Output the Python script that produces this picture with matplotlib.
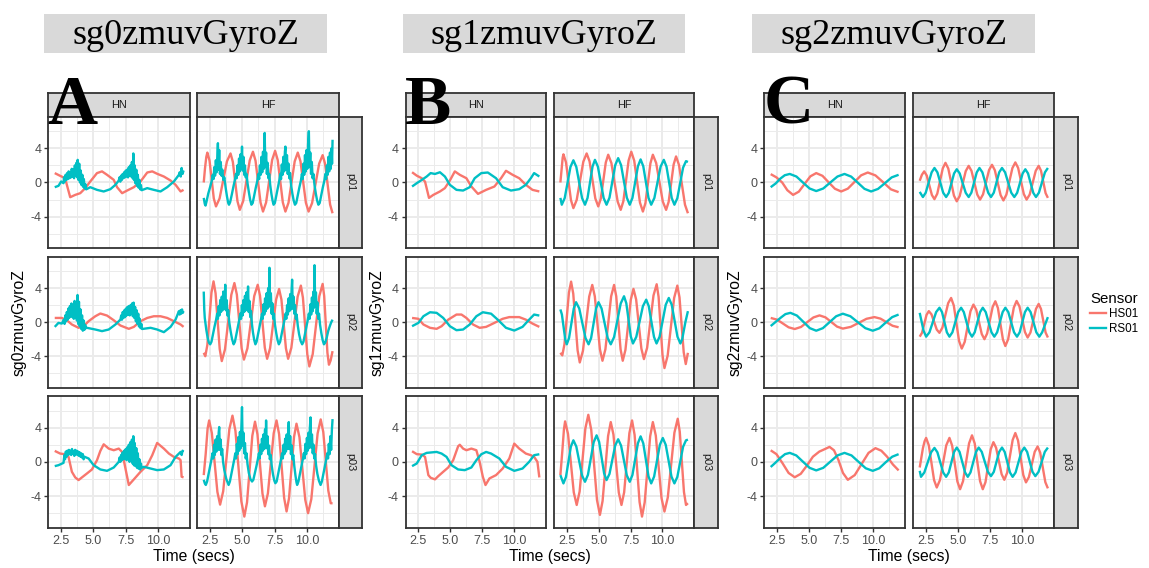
import matplotlib
matplotlib.use("Agg")
import matplotlib.pyplot as plt
from matplotlib.patches import Rectangle
from matplotlib.lines import Line2D
from matplotlib.ticker import FixedLocator, FixedFormatter

plt.rcParams["font.family"] = ["Liberation Sans", "DejaVu Sans"]
plt.rcParams["axes.unicode_minus"] = False

# ---------------------------------------------------------------------------
# Labels
# ---------------------------------------------------------------------------
GROUPS = ["sg0zmuvGyroZ", "sg1zmuvGyroZ", "sg2zmuvGyroZ"]
GROUP_LETTERS = ["A", "B", "C"]
SPEEDS = ["HN", "HF"]
PARTICIPANTS = ["p01", "p02", "p03"]
SENSORS = ["HS01", "RS01"]
X_TICKS = [2.5, 5.0, 7.5, 10.0]
X_TICK_LABELS = ["2.5", "5.0", "7.5", "10.0"]
Y_TICKS = [-4, 0, 4]
Y_TICK_LABELS = ["-4", "0", "4"]

# ---------------------------------------------------------------------------
# Gyro Z traces, (time in secs, value)
# ---------------------------------------------------------------------------
# sg0zmuvGyroZ
a_hn_p01_hs01 = [(2.0,1.1),(2.42,0.78),(2.81,0.5),(2.94,-0.27),(3.2,-1.72),(3.59,-1.45),(3.98,-1.25),(4.37,-0.66),(4.76,0.12),(5.28,1.1),(5.67,1.3),(6.06,0.9),(6.58,0.31),(6.84,-0.55),(7.23,-1.25),(7.62,-0.94),(8.14,-0.55),(8.66,0.12),(9.18,1.17),(9.57,1.3),(9.95,1.02),(10.47,0.7),(10.99,0.23),(11.38,-0.27),(11.77,-1.05),(12.0,-0.86)]
a_hn_p01_rs01 = [(2.0,-0.55),(2.29,-0.39),(2.5,0.12),(2.68,-0.08),(2.72,0.6),(2.78,0.1),(2.84,0.9),(2.9,0.3),(2.96,1.1),(3.02,0.4),(3.08,1.3),(3.14,0.5),(3.2,1.2),(3.26,0.6),(3.32,1.6),(3.38,0.7),(3.44,1.5),(3.5,0.5),(3.56,2.0),(3.62,0.8),(3.68,2.3),(3.74,0.6),(3.78,2.65),(3.84,0.3),(3.9,2.2),(3.96,0.0),(4.02,1.4),(4.08,-0.3),(4.14,0.9),(4.2,-0.5),(4.26,0.4),(4.32,-0.7),(4.38,-0.2),(4.44,-0.8),(4.76,-0.55),(5.28,-0.86),(5.8,-1.05),(6.32,-0.78),(6.71,-0.27),(6.97,0.23),(7.03,0.6),(7.09,0.1),(7.15,0.8),(7.21,0.3),(7.27,1.0),(7.33,0.5),(7.39,1.2),(7.45,0.6),(7.51,1.4),(7.57,0.7),(7.63,1.5),(7.69,0.6),(7.75,1.8),(7.81,0.8),(7.87,2.0),(7.93,0.7),(7.99,2.4),(8.05,0.5),(8.1,3.4),(8.15,0.3),(8.21,2.0),(8.27,-0.1),(8.33,1.5),(8.39,-0.4),(8.45,0.9),(8.51,-0.6),(8.57,0.3),(8.63,-0.8),(8.69,-0.3),(8.75,-0.9),(9.18,-0.66),(9.69,-0.86),(10.21,-1.05),(10.73,-0.55),(11.25,0.12),(11.64,0.9),(11.7,1.2),(11.78,0.7),(11.85,1.7),(11.92,1.0),(12.0,1.4)]
a_hn_p02_hs01 = [(2.0,0.5),(2.55,0.5),(2.94,0.23),(3.33,-0.27),(3.85,-0.66),(4.24,-0.47),(4.63,0.12),(5.15,0.7),(5.54,1.02),(6.06,0.78),(6.58,0.23),(7.1,-0.39),(7.75,-0.78),(8.14,-0.55),(8.66,0.12),(9.18,0.5),(9.69,0.7),(10.21,0.7),(10.73,0.5),(11.25,0.12),(11.77,-0.27),(12.0,-0.55)]
a_hn_p02_rs01 = [(2.0,-0.55),(2.29,-0.08),(2.55,-0.16),(2.7,0.3),(2.76,-0.2),(2.82,0.8),(2.88,0.1),(2.94,1.2),(3.0,0.3),(3.06,1.6),(3.12,0.5),(3.18,1.9),(3.24,0.7),(3.3,2.2),(3.36,0.6),(3.42,2.0),(3.48,0.4),(3.54,2.5),(3.6,0.5),(3.66,2.1),(3.72,0.2),(3.77,3.2),(3.82,-0.2),(3.88,2.4),(3.94,-0.5),(4.0,1.5),(4.06,-0.8),(4.12,0.8),(4.18,-1.0),(4.24,0.2),(4.3,-0.9),(4.36,-0.3),(4.42,-0.7),(4.5,-0.66),(5.15,-0.86),(5.67,-1.05),(6.19,-0.86),(6.71,-0.27),(7.1,0.31),(7.16,0.8),(7.22,0.3),(7.28,1.2),(7.34,0.5),(7.4,1.4),(7.46,0.6),(7.52,1.6),(7.58,0.8),(7.64,1.8),(7.7,0.9),(7.76,1.9),(7.82,0.8),(7.88,2.0),(7.94,1.0),(8.0,2.2),(8.06,0.7),(8.12,2.3),(8.18,0.5),(8.24,1.8),(8.3,0.1),(8.36,1.4),(8.42,-0.2),(8.48,1.0),(8.54,-0.5),(8.6,0.4),(8.66,-0.7),(8.72,-0.2),(8.78,-0.8),(9.44,-0.66),(9.95,-0.86),(10.47,-1.17),(10.99,-0.55),(11.38,0.31),(11.64,1.3),(11.7,0.9),(11.76,1.4),(11.82,1.0),(11.88,1.5),(11.94,1.1),(12.0,1.3)]
a_hn_p03_hs01 = [(2.0,1.28),(2.42,0.97),(2.81,0.89),(3.07,0.58),(3.33,-1.16),(3.59,-1.82),(3.85,-2.13),(4.11,-1.82),(4.5,-1.36),(4.89,-0.89),(5.28,0.19),(5.54,1.28),(5.8,2.05),(6.19,1.55),(6.58,1.36),(6.97,1.55),(7.23,1.16),(7.49,-0.78),(7.75,-2.71),(8.14,-2.05),(8.66,-1.16),(9.18,-0.39),(9.57,0.78),(9.95,2.21),(10.47,1.55),(10.86,0.97),(11.25,0.58),(11.64,0.39),(11.77,0.19),(11.85,-1.74),(12.0,-1.82)]
a_hn_p03_rs01 = [(2.0,-0.5),(2.29,-0.39),(2.68,-0.12),(2.75,0.8),(2.8,0.3),(2.86,1.2),(2.92,0.6),(2.98,1.3),(3.04,0.8),(3.1,1.4),(3.16,0.9),(3.22,1.3),(3.28,0.8),(3.34,1.5),(3.4,1.0),(3.46,1.2),(3.52,0.7),(3.58,1.4),(3.64,0.9),(3.7,1.3),(3.76,0.8),(3.82,1.2),(3.88,0.7),(3.94,1.1),(4.0,0.6),(4.06,1.0),(4.12,0.5),(4.18,0.9),(4.24,0.3),(4.3,0.6),(4.63,0.39),(5.02,-0.39),(5.54,-0.89),(6.06,-1.05),(6.58,-0.66),(6.97,0.0),(7.03,0.5),(7.09,0.0),(7.15,0.8),(7.21,0.2),(7.27,1.1),(7.33,0.3),(7.39,1.3),(7.45,0.4),(7.51,1.5),(7.57,0.2),(7.63,1.7),(7.69,0.3),(7.75,2.0),(7.81,0.0),(7.87,2.3),(7.93,0.2),(7.99,2.6),(8.05,-0.2),(8.1,3.0),(8.15,-0.4),(8.21,2.2),(8.27,-0.5),(8.33,1.6),(8.39,-0.7),(8.45,1.0),(8.51,-0.8),(8.57,0.3),(8.63,-0.9),(8.69,-0.2),(8.75,-0.7),(8.92,-0.58),(9.44,-0.78),(9.95,-0.97),(10.47,-0.89),(10.99,-0.39),(11.38,0.58),(11.77,1.16),(11.85,0.8),(11.92,1.3),(12.0,1.2)]
a_hf_p01_hs01 = [(2.0,0.0),(2.1,1.7),(2.2,3.0),(2.28,3.5),(2.45,2.56),(2.78,-1.86),(2.95,-2.8),(3.23,-1.87),(3.8,2.47),(4.08,3.4),(4.26,2.41),(4.62,-2.21),(4.8,-3.2),(5.06,-2.18),(5.57,2.58),(5.82,3.6),(6.02,2.55),(6.41,-2.35),(6.6,-3.4),(6.84,-2.34),(7.31,2.64),(7.54,3.7),(7.74,2.64),(8.14,-2.34),(8.34,-3.4),(8.58,-2.37),(9.06,2.47),(9.3,3.5),(9.51,2.47),(9.93,-2.37),(10.14,-3.4),(10.41,-2.41),(10.96,2.21),(11.23,3.2),(11.42,2.18),(11.81,-2.58),(12.0,-3.6)]
a_hf_p01_rs01 = [(2.0,-1.8),(2.08,-2.5),(2.14,-2.7),(2.22,-2.2),(2.35,-1.3),(2.5,-0.5),(2.62,0.2),(2.7,0.9),(2.76,0.4),(2.82,1.8),(2.88,0.8),(2.94,2.6),(3.0,1.2),(3.06,3.4),(3.1,4.6),(3.14,1.5),(3.2,3.8),(3.26,1.0),(3.32,2.4),(3.38,0.8),(3.44,1.5),(3.52,0.3),(3.6,0.6),(3.7,-0.6),(3.8,-1.6),(3.9,-2.4),(3.96,-2.6),(4.05,-2.3),(4.18,-1.4),(4.3,-0.5),(4.42,0.3),(4.5,1.0),(4.56,0.5),(4.62,2.0),(4.68,0.9),(4.74,2.8),(4.8,1.3),(4.86,3.3),(4.92,1.6),(4.97,4.2),(5.02,1.4),(5.08,3.0),(5.14,0.9),(5.2,2.0),(5.26,0.6),(5.32,1.0),(5.4,-0.1),(5.5,-1.1),(5.6,-2.0),(5.7,-2.6),(5.8,-2.4),(5.92,-1.5),(6.04,-0.6),(6.16,0.2),(6.24,1.0),(6.3,0.4),(6.36,2.0),(6.42,0.9),(6.48,3.0),(6.54,1.2),(6.6,3.6),(6.66,1.6),(6.73,5.8),(6.78,1.8),(6.84,3.5),(6.9,1.0),(6.96,2.3),(7.02,0.5),(7.08,1.0),(7.16,-0.3),(7.25,-1.3),(7.34,-2.1),(7.42,-2.6),(7.52,-2.4),(7.64,-1.5),(7.76,-0.6),(7.86,0.2),(7.94,1.0),(8.0,0.4),(8.06,2.1),(8.12,0.9),(8.18,3.0),(8.24,1.3),(8.3,3.6),(8.34,4.2),(8.4,1.5),(8.46,3.2),(8.52,1.0),(8.58,2.2),(8.64,0.5),(8.7,1.1),(8.78,-0.3),(8.88,-1.3),(8.98,-2.1),(9.08,-2.6),(9.18,-2.4),(9.3,-1.5),(9.42,-0.6),(9.54,0.2),(9.62,1.0),(9.68,0.4),(9.74,2.2),(9.8,0.9),(9.86,3.2),(9.92,1.3),(9.98,3.8),(10.04,1.6),(10.1,4.5),(10.16,6.0),(10.21,1.8),(10.27,3.5),(10.33,1.0),(10.39,2.4),(10.45,0.5),(10.51,1.0),(10.6,-0.3),(10.7,-1.3),(10.8,-2.1),(10.9,-2.6),(11.0,-2.4),(11.12,-1.5),(11.24,-0.6),(11.36,0.2),(11.44,1.0),(11.5,0.4),(11.56,2.0),(11.62,0.9),(11.68,3.0),(11.74,1.3),(11.8,3.5),(11.86,1.6),(11.92,4.0),(11.96,2.2),(12.0,5.0)]
a_hf_p02_hs01 = [(2.0,-3.6),(2.12,-4.0),(2.28,-2.68),(2.6,3.48),(2.76,4.8),(2.92,3.39),(3.24,-3.16),(3.4,-4.57),(3.65,-3.19),(4.14,3.22),(4.38,4.6),(4.57,3.25),(4.94,-3.05),(5.12,-4.4),(5.39,-3.08),(5.92,3.08),(6.19,4.4),(6.37,3.1),(6.74,-3.0),(6.92,-4.3),(7.15,-3.07),(7.62,2.67),(7.85,3.9),(8.03,2.67),(8.38,-3.07),(8.55,-4.3),(8.8,-3.01),(9.29,3.01),(9.54,4.3),(9.7,2.88),(10.04,-3.78),(10.2,-5.2),(10.46,-3.75),(10.97,3.05),(11.23,4.5),(11.35,3.08),(11.6,-3.58),(11.72,-5.0),(11.85,-4.5),(12.0,-3.4)]
a_hf_p02_rs01 = [(2.0,3.6),(2.04,1.5),(2.08,0.5),(2.14,-0.2),(2.2,-0.9),(2.3,-1.8),(2.4,-2.4),(2.5,-2.6),(2.6,-2.3),(2.72,-1.4),(2.84,-0.5),(2.96,0.3),(3.04,1.0),(3.1,0.4),(3.16,1.9),(3.22,0.8),(3.28,2.6),(3.34,1.2),(3.4,3.0),(3.46,1.4),(3.52,3.6),(3.58,1.6),(3.64,2.6),(3.67,4.4),(3.72,1.4),(3.78,2.6),(3.84,0.8),(3.9,1.4),(3.98,0.0),(4.08,-1.0),(4.2,-2.0),(4.32,-2.6),(4.42,-2.3),(4.54,-1.4),(4.66,-0.5),(4.76,0.3),(4.84,1.0),(4.9,0.4),(4.96,2.0),(5.02,0.8),(5.08,2.6),(5.14,1.2),(5.2,3.1),(5.26,1.4),(5.32,3.5),(5.38,1.5),(5.44,4.2),(5.49,1.2),(5.55,2.5),(5.61,0.6),(5.67,1.3),(5.74,-0.2),(5.82,-1.2),(5.92,-2.1),(6.01,-2.6),(6.1,-2.3),(6.22,-1.4),(6.34,-0.5),(6.44,0.3),(6.52,1.0),(6.58,0.4),(6.64,2.1),(6.7,0.9),(6.76,2.8),(6.82,1.3),(6.88,3.4),(6.94,1.6),(7.0,4.0),(7.05,1.8),(7.1,6.4),(7.15,2.0),(7.21,3.4),(7.27,1.0),(7.33,2.2),(7.39,0.4),(7.45,1.0),(7.53,-0.3),(7.63,-1.3),(7.73,-2.1),(7.83,-2.6),(7.93,-2.3),(8.05,-1.4),(8.17,-0.5),(8.27,0.3),(8.35,1.0),(8.41,0.4),(8.47,2.0),(8.53,0.9),(8.59,2.8),(8.65,1.3),(8.71,3.3),(8.77,1.5),(8.82,3.8),(8.86,5.0),(8.91,1.6),(8.97,3.0),(9.03,1.0),(9.09,2.0),(9.15,0.4),(9.21,0.9),(9.3,-0.4),(9.4,-1.4),(9.52,-2.2),(9.64,-2.6),(9.74,-2.3),(9.86,-1.4),(9.98,-0.5),(10.08,0.3),(10.16,1.0),(10.22,0.4),(10.28,2.1),(10.34,0.9),(10.4,2.9),(10.46,1.3),(10.52,3.6),(10.56,1.7),(10.6,6.7),(10.65,2.0),(10.71,3.5),(10.77,1.0),(10.83,2.3),(10.89,0.4),(10.95,1.0),(11.03,-0.3),(11.13,-1.3),(11.23,-2.1),(11.33,-2.6),(11.43,-2.4),(11.55,-1.8),(11.67,-1.0),(11.8,-0.4),(11.9,0.0),(12.0,0.3)]
a_hf_p03_hs01 = [(2.0,-1.55),(2.15,0.9),(2.3,3.9),(2.42,4.84),(2.63,3.36),(3.06,-3.52),(3.27,-5.0),(3.51,-3.44),(3.99,3.84),(4.23,5.4),(4.46,3.63),(4.92,-4.63),(5.15,-6.4),(5.36,-4.74),(5.77,3.04),(5.98,4.7),(6.17,3.22),(6.56,-3.72),(6.75,-5.2),(6.98,-3.69),(7.43,3.33),(7.65,4.84),(7.85,3.24),(8.24,-4.2),(8.43,-5.8),(8.62,-4.26),(9.01,2.92),(9.2,4.46),(9.43,2.89),(9.88,-4.43),(10.1,-6.0),(10.35,-4.36),(10.84,3.32),(11.08,4.96),(11.28,3.49),(11.67,-3.37),(11.86,-4.84),(12.0,-4.84)]
a_hf_p03_rs01 = [(2.0,-2.1),(2.08,-2.5),(2.16,-2.7),(2.26,-2.3),(2.38,-1.4),(2.5,-0.5),(2.6,0.3),(2.68,1.0),(2.74,0.4),(2.8,2.0),(2.86,0.8),(2.92,2.6),(2.98,1.2),(3.04,3.0),(3.1,1.4),(3.16,3.4),(3.2,4.07),(3.25,1.4),(3.31,2.6),(3.37,0.8),(3.43,1.5),(3.5,0.0),(3.6,-1.0),(3.75,-2.0),(3.93,-2.7),(4.03,-2.3),(4.15,-1.4),(4.27,-0.5),(4.37,0.3),(4.45,1.0),(4.51,0.4),(4.57,2.1),(4.63,0.9),(4.69,2.9),(4.75,1.3),(4.81,3.5),(4.87,1.6),(4.92,4.2),(4.97,6.4),(5.02,1.9),(5.08,3.4),(5.14,1.0),(5.2,2.2),(5.26,0.4),(5.32,1.0),(5.4,-0.3),(5.5,-1.3),(5.62,-2.0),(5.75,-2.3),(5.85,-2.1),(5.97,-1.3),(6.09,-0.5),(6.2,0.3),(6.28,1.0),(6.34,0.4),(6.4,2.0),(6.46,0.9),(6.52,2.7),(6.58,1.3),(6.64,3.2),(6.7,1.5),(6.76,3.8),(6.8,1.7),(6.84,4.84),(6.89,1.6),(6.95,3.0),(7.01,0.9),(7.07,1.9),(7.13,0.3),(7.2,0.8),(7.28,-0.5),(7.38,-1.5),(7.48,-2.2),(7.56,-2.5),(7.66,-2.3),(7.78,-1.4),(7.9,-0.5),(8.0,0.3),(8.08,1.0),(8.14,0.4),(8.2,2.0),(8.26,0.9),(8.32,2.7),(8.38,1.2),(8.44,3.2),(8.5,1.5),(8.56,3.7),(8.6,4.65),(8.65,1.5),(8.71,3.0),(8.77,0.9),(8.83,1.9),(8.89,0.3),(8.95,0.8),(9.03,-0.5),(9.12,-1.6),(9.2,-2.4),(9.25,-2.7),(9.35,-2.3),(9.47,-1.4),(9.59,-0.5),(9.69,0.3),(9.77,1.0),(9.83,0.4),(9.89,2.1),(9.95,0.9),(10.01,2.8),(10.07,1.3),(10.13,3.4),(10.19,1.6),(10.24,4.0),(10.29,5.2),(10.34,1.7),(10.4,3.2),(10.46,1.0),(10.52,2.0),(10.58,0.4),(10.64,0.9),(10.72,-0.4),(10.82,-1.4),(10.94,-2.2),(11.07,-2.7),(11.17,-2.3),(11.29,-1.4),(11.41,-0.5),(11.51,0.3),(11.59,1.0),(11.65,0.4),(11.71,2.1),(11.77,0.9),(11.83,3.0),(11.89,1.4),(11.95,3.8),(12.0,5.0)]

# sg1zmuvGyroZ
b_hn_p01_hs01 = [(2.0,1.2),(2.37,0.8),(2.76,0.5),(3.02,0.1),(3.33,-1.8),(3.67,-1.45),(4.19,-1.05),(4.58,-0.66),(4.97,0.23),(5.36,1.3),(5.75,0.9),(6.27,0.5),(6.66,-0.47),(7.18,-1.33),(7.82,-0.86),(8.47,-0.47),(8.99,0.5),(9.38,1.37),(9.9,0.9),(10.42,0.5),(10.94,-0.27),(11.46,-0.86),(12.0,-1.05)]
b_hn_p01_rs01 = [(2.0,-0.47),(2.37,-0.08),(2.76,0.3),(3.15,0.7),(3.46,1.1),(3.8,1.0),(4.19,1.2),(4.58,0.7),(4.97,-0.27),(5.49,-0.86),(6.01,-0.94),(6.53,-0.55),(6.92,0.5),(7.44,1.1),(7.95,1.17),(8.6,0.5),(9.12,-0.55),(9.77,-0.94),(10.42,-0.78),(10.94,-0.27),(11.33,0.5),(11.59,1.1),(12.0,0.7)]
b_hn_p02_hs01 = [(2.0,0.5),(2.5,0.4),(2.89,-0.27),(3.41,-0.66),(3.93,-0.78),(4.32,-0.47),(4.84,0.3),(5.49,0.9),(5.88,0.9),(6.27,0.5),(6.79,-0.27),(7.31,-0.66),(7.82,-0.55),(8.47,-0.08),(9.12,0.4),(9.64,0.6),(10.42,0.6),(10.94,0.3),(11.46,-0.16),(12.0,-0.55)]
b_hn_p02_rs01 = [(2.0,-0.47),(2.5,-0.08),(2.89,0.7),(3.41,1.17),(3.93,1.1),(4.45,0.5),(4.97,-0.47),(5.49,-0.94),(6.01,-0.86),(6.53,-0.27),(7.05,0.7),(7.56,1.17),(8.21,1.0),(8.73,0.3),(9.38,-0.66),(10.03,-0.98),(10.68,-0.55),(11.2,0.3),(11.59,0.9),(12.0,0.78)]
b_hn_p03_hs01 = [(2.0,1.24),(2.37,0.9),(2.76,0.85),(3.02,0.58),(3.28,-1.55),(3.46,-1.86),(3.8,-2.05),(4.06,-1.67),(4.45,-1.16),(4.84,-0.66),(5.23,0.19),(5.62,1.82),(5.75,2.0),(6.01,1.55),(6.27,1.36),(6.66,1.55),(7.05,1.36),(7.31,0.0),(7.56,-1.74),(7.77,-2.71),(8.08,-1.94),(8.6,-1.55),(9.12,-0.78),(9.64,0.39),(10.03,2.13),(10.42,1.55),(10.94,0.97),(11.33,0.78),(11.59,0.58),(11.85,0.0),(12.0,-1.82)]
b_hn_p03_rs01 = [(2.0,-0.5),(2.37,-0.19),(2.76,0.78),(3.15,1.05),(3.93,1.16),(4.32,0.97),(4.71,0.58),(5.1,-0.39),(5.62,-0.89),(6.14,-0.97),(6.66,-0.66),(7.05,0.19),(7.44,0.89),(7.82,1.16),(8.21,0.97),(8.86,0.39),(9.38,-0.58),(10.03,-1.05),(10.68,-0.78),(11.2,0.0),(11.59,0.78),(12.0,0.89)]
b_hf_p01_hs01 = [(2.0,0.0),(2.1,1.6),(2.18,2.9),(2.24,3.3),(2.44,2.36),(2.83,-2.06),(3.02,-3.0),(3.28,-2.04),(3.8,2.44),(4.06,3.4),(4.29,2.47),(4.74,-1.87),(4.97,-2.8),(5.17,-1.89),(5.56,2.34),(5.75,3.25),(6.0,2.28),(6.49,-2.23),(6.73,-3.2),(6.94,-2.18),(7.35,2.58),(7.56,3.6),(7.79,2.55),(8.24,-2.35),(8.47,-3.4),(8.67,-2.4),(9.06,2.25),(9.25,3.25),(9.51,2.28),(10.03,-2.23),(10.29,-3.2),(10.49,-2.26),(10.88,2.11),(11.07,3.05),(11.3,2.05),(11.77,-2.6),(12.0,-3.6)]
b_hf_p01_rs01 = [(2.0,-1.8),(2.11,-2.6),(2.34,-1.82),(2.79,1.82),(3.02,2.6),(3.25,1.82),(3.7,-1.82),(3.93,-2.6),(4.13,-1.81),(4.52,1.86),(4.71,2.65),(4.94,1.86),(5.39,-1.81),(5.62,-2.6),(5.85,-1.78),(6.3,2.03),(6.53,2.85),(6.76,2.03),(7.21,-1.78),(7.44,-2.6),(7.65,-1.8),(8.08,1.9),(8.29,2.7),(8.5,1.9),(8.91,-1.8),(9.12,-2.6),(9.37,-1.81),(9.86,1.86),(10.11,2.65),(10.32,1.86),(10.73,-1.81),(10.94,-2.6),(11.17,-1.84),(11.62,1.74),(11.85,2.5),(12.0,2.4)]
b_hf_p02_hs01 = [(2.0,-3.6),(2.15,-3.9),(2.32,-2.6),(2.67,3.47),(2.84,4.77),(3.01,3.35),(3.35,-3.31),(3.52,-4.73),(3.77,-3.36),(4.26,3.01),(4.5,4.38),(4.7,3.04),(5.1,-3.19),(5.3,-4.53),(5.53,-3.19),(5.98,3.04),(6.21,4.38),(6.38,3.04),(6.72,-3.19),(6.89,-4.53),(7.1,-3.26),(7.52,2.64),(7.73,3.91),(7.94,2.67),(8.35,-3.1),(8.55,-4.34),(8.8,-3.02),(9.3,3.14),(9.55,4.46),(9.7,2.98),(10.01,-3.91),(10.16,-5.39),(10.41,-3.94),(10.92,2.85),(11.17,4.3),(11.34,2.92),(11.67,-3.54),(11.83,-4.92),(12.0,-3.6)]
b_hf_p02_rs01 = [(2.0,1.5),(2.12,0.9),(2.38,-2.0),(2.5,-2.6),(2.68,-1.86),(3.05,1.61),(3.23,2.35),(3.48,1.61),(3.97,-1.86),(4.21,-2.6),(4.41,-1.86),(4.8,1.61),(4.99,2.35),(5.23,1.61),(5.71,-1.86),(5.95,-2.6),(6.21,-1.75),(6.73,2.2),(6.99,3.05),(7.17,2.22),(7.52,-1.67),(7.69,-2.5),(7.95,-1.73),(8.47,1.88),(8.73,2.65),(8.93,1.88),(9.34,-1.73),(9.54,-2.5),(9.78,-1.7),(10.26,2.05),(10.5,2.85),(10.73,2.05),(11.18,-1.7),(11.41,-2.5),(11.55,-2.0),(11.8,0.0),(12.0,1.3)]
b_hf_p03_hs01 = [(2.0,-1.55),(2.15,1.2),(2.28,3.8),(2.37,4.73),(2.6,3.26),(3.05,-3.57),(3.28,-5.04),(3.51,-3.46),(3.96,3.92),(4.19,5.5),(4.42,3.75),(4.87,-4.45),(5.1,-6.2),(5.31,-4.57),(5.74,3.02),(5.95,4.65),(6.16,3.2),(6.58,-3.59),(6.79,-5.04),(7.0,-3.56),(7.41,3.36),(7.62,4.84),(7.82,3.15),(8.21,-4.71),(8.4,-6.4),(8.61,-4.74),(9.04,2.99),(9.25,4.65),(9.48,3.08),(9.93,-4.24),(10.16,-5.81),(10.42,-4.18),(10.94,3.41),(11.2,5.04),(11.36,3.53),(11.69,-3.53),(11.85,-5.04),(12.0,-4.84)]
b_hf_p03_rs01 = [(2.0,-1.55),(2.24,-2.52),(2.44,-1.76),(2.82,1.76),(3.02,2.52),(3.25,1.79),(3.7,-1.6),(3.93,-2.33),(4.16,-1.52),(4.61,2.29),(4.84,3.1),(5.04,2.32),(5.43,-1.35),(5.62,-2.13),(5.85,-1.41),(6.3,1.92),(6.53,2.64),(6.76,1.89),(7.21,-1.58),(7.44,-2.33),(7.65,-1.53),(8.08,2.18),(8.29,2.98),(8.5,2.16),(8.91,-1.7),(9.12,-2.52),(9.35,-1.72),(9.8,1.99),(10.03,2.79),(10.26,1.99),(10.71,-1.72),(10.94,-2.52),(11.17,-1.76),(11.62,1.76),(11.85,2.52),(12.0,2.6)]

# sg2zmuvGyroZ
c_hn_p01_hs01 = [(2.0,0.98),(2.45,0.6),(2.9,0.0),(3.3,-0.9),(3.75,-1.45),(4.2,-1.07),(4.65,-0.17),(5.1,0.72),(5.56,1.1),(6.05,0.78),(6.53,0.02),(7.02,-0.73),(7.51,-1.05),(8.03,-0.72),(8.55,0.06),(9.07,0.84),(9.59,1.17),(10.19,0.83),(10.8,0.02),(11.4,-0.8),(12.0,-1.13)]
c_hn_p01_rs01 = [(2.0,-0.55),(2.4,-0.1),(2.75,0.45),(3.1,0.85),(3.49,1.0),(4.01,0.7),(4.52,0.0),(5.04,-0.7),(5.56,-1.0),(6.11,-0.7),(6.66,0.0),(7.22,0.7),(7.77,1.0),(8.29,0.69),(8.81,-0.02),(9.33,-0.74),(9.85,-1.05),(10.39,-0.75),(10.93,-0.08),(11.46,0.6),(12.0,0.9)]
c_hn_p02_hs01 = [(2.0,0.5),(2.5,0.3),(2.95,-0.15),(3.4,-0.6),(3.88,-0.8),(4.37,-0.56),(4.85,0.0),(5.34,0.56),(5.82,0.8),(6.28,0.57),(6.73,0.03),(7.19,-0.52),(7.64,-0.75),(8.26,-0.55),(8.88,-0.08),(9.49,0.4),(10.11,0.6),(10.58,0.42),(11.06,0.0),(11.53,-0.42),(12.0,-0.6)]
c_hn_p02_rs01 = [(2.0,-0.45),(2.4,0.05),(2.8,0.55),(3.15,0.95),(3.54,1.1),(4.05,0.78),(4.55,0.05),(5.06,-0.7),(5.56,-1.0),(6.08,-0.7),(6.6,0.0),(7.12,0.7),(7.64,1.0),(8.23,0.7),(8.81,0.0),(9.4,-0.7),(9.98,-1.0),(10.49,-0.72),(10.99,-0.05),(11.5,0.6),(12.0,0.9)]
c_hn_p03_hs01 = [(2.0,1.35),(2.45,0.9),(2.9,-0.1),(3.4,-1.3),(3.88,-1.8),(4.35,-1.4),(4.8,-0.5),(5.3,0.6),(5.8,1.2),(6.1,1.4),(6.6,1.75),(6.95,1.35),(7.3,0.2),(7.65,-1.3),(8.03,-2.1),(8.57,-1.55),(9.11,-0.25),(9.65,1.05),(10.19,1.6),(10.65,1.3),(11.1,0.6),(11.55,-0.3),(12.0,-1.0)]
c_hn_p03_rs01 = [(2.0,-0.6),(2.37,-0.1),(2.75,0.45),(3.12,0.9),(3.49,1.05),(4.0,0.75),(4.52,0.02),(5.04,-0.7),(5.56,-1.0),(6.11,-0.7),(6.66,0.02),(7.22,0.75),(7.77,1.05),(8.32,0.75),(8.87,0.0),(9.43,-0.75),(9.98,-1.05),(10.49,-0.75),(10.99,-0.05),(11.5,0.6),(12.0,0.9)]
c_hf_p01_hs01 = [(2.0,0.2),(2.17,0.9),(2.35,1.3),(2.55,0.81),(2.95,-1.46),(3.15,-1.95),(3.37,-1.31),(3.8,1.66),(4.01,2.3),(4.23,1.63),(4.67,-1.53),(4.89,-2.2),(5.12,-1.58),(5.59,1.33),(5.82,1.95),(6.04,1.36),(6.49,-1.41),(6.71,-2.0),(6.94,-1.39),(7.41,1.46),(7.64,2.07),(7.86,1.44),(8.31,-1.47),(8.53,-2.1),(8.76,-1.43),(9.23,1.68),(9.46,2.35),(9.68,1.7),(10.12,-1.35),(10.34,-2.0),(10.58,-1.41),(11.05,1.36),(11.28,1.95),(11.46,1.39),(11.82,-1.24),(12.0,-1.8)]
c_hf_p01_rs01 = [(2.0,-1.1),(2.25,-1.7),(2.47,-1.19),(2.93,1.19),(3.15,1.7),(3.38,1.19),(3.83,-1.19),(4.06,-1.7),(4.27,-1.21),(4.68,1.06),(4.89,1.55),(5.12,1.06),(5.59,-1.21),(5.82,-1.7),(6.03,-1.19),(6.45,1.19),(6.66,1.7),(6.89,1.19),(7.34,-1.19),(7.56,-1.7),(7.78,-1.19),(8.2,1.19),(8.42,1.7),(8.66,1.19),(9.14,-1.19),(9.38,-1.7),(9.6,-1.21),(10.03,1.06),(10.24,1.55),(10.45,1.06),(10.86,-1.21),(11.07,-1.7),(11.3,-1.19),(11.77,1.19),(12.0,1.7)]
c_hf_p02_hs01 = [(2.0,-1.7),(2.18,-1.25),(2.53,0.85),(2.71,1.3),(2.92,0.92),(3.33,-0.87),(3.54,-1.25),(3.77,-0.64),(4.22,2.24),(4.45,2.85),(4.66,1.96),(5.07,-2.21),(5.28,-3.1),(5.51,-2.32),(5.96,1.29),(6.19,2.07),(6.41,1.46),(6.84,-1.39),(7.05,-2.0),(7.26,-1.33),(7.69,1.79),(7.9,2.46),(8.1,1.67),(8.49,-2.01),(8.68,-2.8),(8.9,-2.0),(9.34,1.71),(9.56,2.5),(9.78,1.86),(10.21,-1.16),(10.42,-1.8),(10.64,-1.21),(11.07,1.56),(11.28,2.15),(11.46,1.56),(11.82,-1.21),(12.0,-1.8)]
c_hf_p02_rs01 = [(2.0,1.1),(2.3,-1.0),(2.5,-1.7),(2.76,-1.19),(3.28,1.19),(3.54,1.7),(3.74,1.19),(4.12,-1.19),(4.32,-1.7),(4.55,-1.19),(5.0,1.19),(5.23,1.7),(5.44,1.19),(5.87,-1.19),(6.08,-1.7),(6.29,-1.19),(6.71,1.19),(6.92,1.7),(7.15,1.19),(7.6,-1.19),(7.82,-1.7),(8.04,-1.19),(8.47,1.19),(8.68,1.7),(8.91,1.19),(9.36,-1.19),(9.59,-1.7),(9.8,-1.19),(10.21,1.19),(10.42,1.7),(10.65,1.19),(11.1,-1.19),(11.33,-1.7),(11.55,-1.2),(11.8,-0.2),(12.0,0.6)]
c_hf_p03_hs01 = [(2.0,-0.66),(2.25,1.6),(2.38,2.4),(2.5,2.8),(2.71,1.93),(3.12,-2.13),(3.33,-3.0),(3.58,-2.13),(4.07,1.93),(4.32,2.8),(4.53,1.9),(4.94,-2.3),(5.15,-3.2),(5.38,-2.26),(5.85,2.16),(6.08,3.1),(6.29,2.16),(6.71,-2.26),(6.92,-3.2),(7.13,-2.38),(7.54,1.48),(7.75,2.3),(7.96,1.64),(8.39,-1.44),(8.6,-2.1),(8.82,-1.28),(9.25,2.55),(9.46,3.37),(9.67,2.5),(10.08,-1.53),(10.29,-2.4),(10.52,-1.77),(10.97,1.17),(11.2,1.8),(11.4,1.07),(11.8,-2.37),(12.0,-3.1)]
c_hf_p03_rs01 = [(2.0,-1.05),(2.1,-1.75),(2.36,-1.24),(2.89,1.12),(3.15,1.63),(3.38,1.12),(3.83,-1.24),(4.06,-1.75),(4.27,-1.24),(4.68,1.16),(4.89,1.67),(5.11,1.16),(5.54,-1.24),(5.75,-1.75),(5.96,-1.24),(6.39,1.16),(6.6,1.67),(6.84,1.17),(7.32,-1.17),(7.56,-1.67),(7.78,-1.17),(8.2,1.17),(8.42,1.67),(8.63,1.16),(9.04,-1.24),(9.25,-1.75),(9.48,-1.24),(9.93,1.16),(10.16,1.67),(10.38,1.17),(10.8,-1.17),(11.02,-1.67),(11.27,-1.17),(11.76,1.17),(12.0,1.67)]

TRACES = {
    ("sg0zmuvGyroZ", "HN", "p01"): (a_hn_p01_hs01, a_hn_p01_rs01),
    ("sg0zmuvGyroZ", "HN", "p02"): (a_hn_p02_hs01, a_hn_p02_rs01),
    ("sg0zmuvGyroZ", "HN", "p03"): (a_hn_p03_hs01, a_hn_p03_rs01),
    ("sg0zmuvGyroZ", "HF", "p01"): (a_hf_p01_hs01, a_hf_p01_rs01),
    ("sg0zmuvGyroZ", "HF", "p02"): (a_hf_p02_hs01, a_hf_p02_rs01),
    ("sg0zmuvGyroZ", "HF", "p03"): (a_hf_p03_hs01, a_hf_p03_rs01),
    ("sg1zmuvGyroZ", "HN", "p01"): (b_hn_p01_hs01, b_hn_p01_rs01),
    ("sg1zmuvGyroZ", "HN", "p02"): (b_hn_p02_hs01, b_hn_p02_rs01),
    ("sg1zmuvGyroZ", "HN", "p03"): (b_hn_p03_hs01, b_hn_p03_rs01),
    ("sg1zmuvGyroZ", "HF", "p01"): (b_hf_p01_hs01, b_hf_p01_rs01),
    ("sg1zmuvGyroZ", "HF", "p02"): (b_hf_p02_hs01, b_hf_p02_rs01),
    ("sg1zmuvGyroZ", "HF", "p03"): (b_hf_p03_hs01, b_hf_p03_rs01),
    ("sg2zmuvGyroZ", "HN", "p01"): (c_hn_p01_hs01, c_hn_p01_rs01),
    ("sg2zmuvGyroZ", "HN", "p02"): (c_hn_p02_hs01, c_hn_p02_rs01),
    ("sg2zmuvGyroZ", "HN", "p03"): (c_hn_p03_hs01, c_hn_p03_rs01),
    ("sg2zmuvGyroZ", "HF", "p01"): (c_hf_p01_hs01, c_hf_p01_rs01),
    ("sg2zmuvGyroZ", "HF", "p02"): (c_hf_p02_hs01, c_hf_p02_rs01),
    ("sg2zmuvGyroZ", "HF", "p03"): (c_hf_p03_hs01, c_hf_p03_rs01),
}

# ---------------------------------------------------------------------------
# Styling and layout (pixel coordinates, origin top-left)
# ---------------------------------------------------------------------------
W, H = 1149, 568
SENSOR_COLORS = {"HS01": "#F8766D", "RS01": "#00BFC4"}
LINE_W = 1.7
BORDER = "#333333"
BORDER_W = 1.3
STRIP_FILL = "#D9D9D9"
GRID = "#EBEBEB"
TICK_TEXT = "#4D4D4D"
X_LIM = (1.5, 12.5)
Y_LIM = (-7.7, 7.7)

GROUP_COLS = {
    "sg0zmuvGyroZ": [(48.3, 190.0), (197.3, 339.0)],
    "sg1zmuvGyroZ": [(405.7, 545.7), (554.0, 694.3)],
    "sg2zmuvGyroZ": [(764.3, 905.0), (913.3, 1054.3)],
}
STRIP_RIGHT = {"sg0zmuvGyroZ": 361.7, "sg1zmuvGyroZ": 718.3, "sg2zmuvGyroZ": 1078.3}
TITLE_BOX = {"sg0zmuvGyroZ": (44, 14, 327, 53), "sg1zmuvGyroZ": (403, 14, 685, 53),
             "sg2zmuvGyroZ": (752, 14, 1035, 53)}
ROWS = [(116.7, 248.3), (256.7, 387.7), (396.0, 527.7)]
STRIP_TOP = 93.3

fig = plt.figure(figsize=(W / 100, H / 100), dpi=100)
fig.patch.set_facecolor("white")


def px_axes(x0, y0, x1, y1):
    return fig.add_axes([x0 / W, 1 - y1 / H, (x1 - x0) / W, (y1 - y0) / H])


def fx(x):
    return x / W


def fy(y):
    return 1 - y / H


def strip(x0, y0, x1, y1, text, rotation=0):
    sax = px_axes(x0, y0, x1, y1)
    sax.set_facecolor(STRIP_FILL)
    sax.set_xticks([])
    sax.set_yticks([])
    for s in sax.spines.values():
        s.set_color(BORDER)
        s.set_linewidth(BORDER_W)
    sax.text(0.5, 0.5, text, transform=sax.transAxes, ha="center", va="center",
             rotation=rotation, fontsize=7.8, color="#1A1A1A")


for g, group in enumerate(GROUPS):
    cols = GROUP_COLS[group]
    for c, speed in enumerate(SPEEDS):
        x0, x1 = cols[c]
        strip(x0, STRIP_TOP, x1, ROWS[0][0], speed)
        for r, part in enumerate(PARTICIPANTS):
            y0, y1 = ROWS[r]
            ax = px_axes(x0, y0, x1, y1)
            ax.set_xlim(*X_LIM)
            ax.set_ylim(*Y_LIM)
            ax.xaxis.set_major_locator(FixedLocator(X_TICKS))
            ax.xaxis.set_major_formatter(FixedFormatter(X_TICK_LABELS))
            ax.xaxis.set_minor_locator(FixedLocator([3.75, 6.25, 8.75, 11.25]))
            ax.yaxis.set_major_locator(FixedLocator(Y_TICKS))
            ax.yaxis.set_major_formatter(FixedFormatter(Y_TICK_LABELS))
            ax.yaxis.set_minor_locator(FixedLocator([-6, -2, 2, 6]))
            ax.grid(which="major", color=GRID, lw=1.4)
            ax.grid(which="minor", color=GRID, lw=0.7)
            ax.set_axisbelow(True)
            for s in ax.spines.values():
                s.set_color(BORDER)
                s.set_linewidth(BORDER_W)
            ax.tick_params(which="both", length=0, labelleft=False, labelbottom=False)
            if c == 0:
                ax.tick_params(axis="y", which="major", length=2.8, width=1.0, color=BORDER,
                               labelleft=True, labelsize=9, labelcolor=TICK_TEXT, pad=2.2)
            if r == 2:
                ax.tick_params(axis="x", which="major", length=2.8, width=1.0, color=BORDER,
                               labelbottom=True, labelsize=9, labelcolor=TICK_TEXT, pad=2.2)
            hs, rs = TRACES[(group, speed, part)]
            for sensor, pts in zip(SENSORS, (hs, rs)):
                t = [p[0] for p in pts]
                v = [p[1] for p in pts]
                ax.plot(t, v, color=SENSOR_COLORS[sensor], lw=LINE_W,
                        solid_joinstyle="round", solid_capstyle="butt")
            if c == 1:
                strip(x1, y0, STRIP_RIGHT[group], y1, part, rotation=-90)

    # axis titles
    left = cols[0][0]
    fig.text(fx(left - 29), fy((ROWS[0][0] + ROWS[2][1]) / 2), group, rotation=90,
             ha="center", va="center", fontsize=11.3, color="black")
    fig.text(fx((cols[0][0] + cols[1][1]) / 2), fy(556.7), "Time (secs)",
             ha="center", va="center", fontsize=11.3, color="black")

    # group title box
    bx0, by0, bx1, by1 = TITLE_BOX[group]
    fig.add_artist(Rectangle((fx(bx0), fy(by1)), (bx1 - bx0) / W, (by1 - by0) / H,
                             transform=fig.transFigure, facecolor="#D9D9D9",
                             edgecolor="none"))
    fig.text(fx((bx0 + bx1) / 2), fy(43.5), group, ha="center", va="baseline",
             fontsize=26, family="Liberation Serif", color="black")

    # panel letter
    fig.text(fx(left - 1), fy(124), GROUP_LETTERS[g], ha="left", va="baseline",
             fontsize=50, fontweight="bold", family="Liberation Serif", color="black",
             zorder=10)

# legend
handles = [Line2D([], [], color=SENSOR_COLORS[s], lw=LINE_W) for s in SENSORS]
leg = fig.legend(handles, SENSORS, title="Sensor", loc="upper left",
                 bbox_to_anchor=(fx(1090), fy(292)), frameon=False, fontsize=8.4,
                 title_fontsize=10.8, handlelength=1.35, handletextpad=0.3,
                 labelspacing=0.2, borderpad=0, borderaxespad=0, alignment="left")

fig.savefig("out.png", dpi=100)
